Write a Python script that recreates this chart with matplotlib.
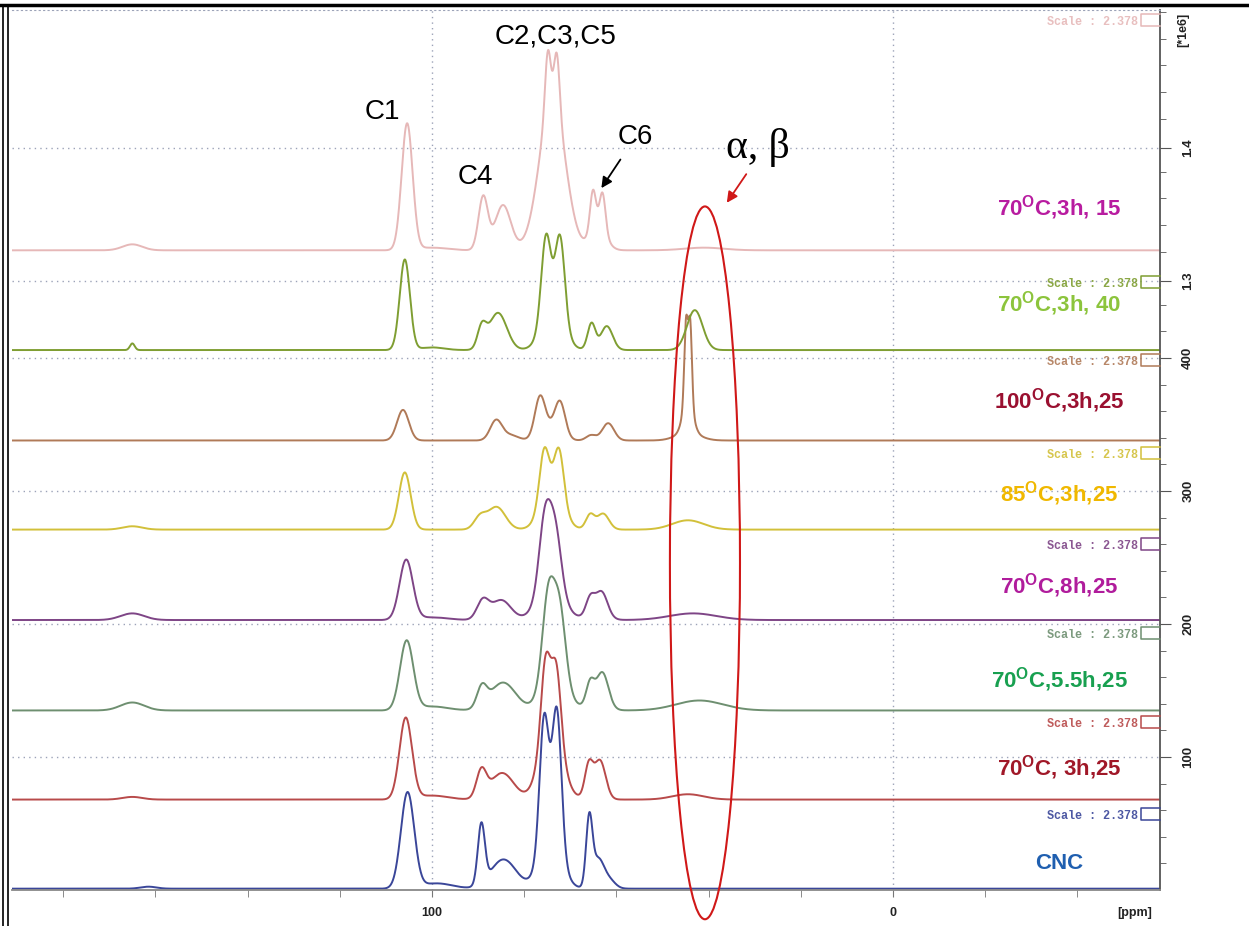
import numpy as np
import matplotlib
matplotlib.use("Agg")
import matplotlib.pyplot as plt
from matplotlib.patches import Ellipse
from matplotlib.lines import Line2D
from matplotlib.ticker import FixedLocator, MultipleLocator
import matplotlib.transforms as mtransforms

plt.rcParams['font.family'] = ['Liberation Sans', 'DejaVu Sans']
plt.rcParams['mathtext.fontset'] = 'custom'
plt.rcParams['mathtext.rm'] = 'Liberation Sans'
plt.rcParams['mathtext.bf'] = 'Liberation Sans:bold'

# ---------------- data (bottom spectrum first) ----------------
sample_labels = ["CNC",
                 r"70$^{\mathbf{O}}$C, 3h,25",
                 r"70$^{\mathbf{O}}$C,5.5h,25",
                 r"70$^{\mathbf{O}}$C,8h,25",
                 r"85$^{\mathbf{O}}$C,3h,25",
                 r"100$^{\mathbf{O}}$C,3h,25",
                 r"70$^{\mathbf{O}}$C,3h, 40",
                 r"70$^{\mathbf{O}}$C,3h, 15"]
label_colors = ["#1f5fb0", "#a01828", "#18a050", "#b01c9c",
                "#f0b800", "#9a1030", "#8cc43c", "#b81ca0"]
line_colors = ["#3a4699", "#b84a4a", "#6e8f70", "#7e4586",
               "#d2c03a", "#b07a58", "#7f9e32", "#e6b8b8"]
stack_offsets = [1, 68, 135, 203, 271, 338, 406, 481]
scale_text = "Scale : 2.378"
scale_label_levels = [56, 125, 192, 259, 327, 397, 456, 653]

# peak tables: (shift ppm, height, FWHM ppm)
peaks_cnc = [(161.5, 1.5, 4), (105.3, 72, 3.4), (99.0, 4, 8), (89.3, 45, 1.8),
             (84.5, 22, 6.5), (75.7, 97, 2.3), (72.9, 102, 2.3), (74.3, 39, 5.5),
             (65.9, 50, 1.6), (64.0, 22, 3.0), (61.5, 6, 3.0)]
peaks_70_3h_25 = [(165, 2, 5), (105.7, 61, 3.2), (100, 3, 8), (89.3, 20, 2.5),
                  (84.8, 20, 6.0), (75.4, 55, 2.3), (73.0, 49, 2.3), (74.2, 58, 5.5),
                  (66.0, 22, 2.0), (63.5, 25, 2.8), (64.8, 6, 4.0), (44.5, 4, 8)]
peaks_70_55h_25 = [(165, 6, 6), (105.5, 52, 3.4), (100, 3, 8), (89.2, 15, 2.5),
                   (84.6, 21, 6.5), (74.8, 62, 3.0), (72.3, 50, 3.0), (73.5, 30, 6.0),
                   (65.7, 16, 2.0), (63.0, 24, 3.0), (64.5, 6, 5.0), (42, 7.5, 12)]
peaks_70_8h_25 = [(165, 5, 6), (105.6, 45, 3.4), (100, 2, 8), (89.0, 14, 3.0),
                  (85.0, 15, 5.0), (75.5, 55, 3.0), (73.2, 42, 3.0), (74.3, 25, 6.5),
                  (65.7, 13, 2.2), (63.2, 18, 3.0), (64.5, 4, 5.0), (43.4, 5, 12)]
peaks_85_3h_25 = [(165, 2.5, 5), (105.9, 43, 3.0), (89.6, 9, 3.0), (86.0, 17, 4.5),
                  (75.7, 38, 2.4), (72.4, 37, 2.4), (74.0, 30, 5.5), (65.7, 11, 2.2),
                  (62.9, 12, 3.0), (44.5, 7, 8)]
peaks_100_3h_25 = [(106.3, 23, 3.0), (86.1, 15, 3.0), (83.0, 4, 4.0), (76.6, 28, 2.6),
                   (72.2, 24, 2.6), (74.4, 10, 5.0), (65.5, 4, 2.5), (61.8, 13, 3.0),
                   (44.9, 60, 0.9), (44.0, 60, 0.9), (44.5, 25, 2.5), (44.5, 6, 6.0)]
peaks_70_3h_40 = [(165, 5, 1.2), (105.9, 68, 2.6), (100, 2, 6), (89.2, 16, 2.2),
                  (85.7, 28, 4.5), (75.3, 62, 2.4), (72.2, 62, 2.4), (73.8, 30, 5.5),
                  (65.4, 20, 2.0), (62.1, 18, 3.0), (43.0, 30, 4.0)]
peaks_70_3h_15 = [(165, 4.5, 5), (105.4, 95, 2.8), (100, 2, 8), (88.9, 40, 2.4),
                  (84.6, 34, 4.0), (74.9, 42, 1.4), (72.9, 40, 1.4), (73.9, 115, 6.5),
                  (65.1, 30, 1.5), (63.0, 28, 1.5), (64.0, 18, 4.0), (41, 2, 10)]
peak_tables = [peaks_cnc, peaks_70_3h_25, peaks_70_55h_25, peaks_70_8h_25,
               peaks_85_3h_25, peaks_100_3h_25, peaks_70_3h_40, peaks_70_3h_15]

x_major_ticks = [100, 0]
y_major_ticks = [100, 200, 300, 400, 458, 558]
y_major_labels = ["100", "200", "300", "400", "1.3", "1.4"]

# ---------------- figure ----------------
W, H = 1249, 926
fig = plt.figure(figsize=(W / 100, H / 100), dpi=100)
ax = fig.add_axes([12 / W, (H - 890) / H, (1160 - 12) / W, 880 / H])
ax.set_xlim(191.1, -57.9)
ax.set_ylim(0, 661.7)

ppm = np.linspace(191.1, -57.9, 4000)


def spectrum(table):
    y = np.zeros_like(ppm)
    for c, h, w in table:
        y += h * np.exp(-4 * np.log(2) * ((ppm - c) / w) ** 2)
    return y


grid_kw = dict(color="#9ca3b8", lw=1.0, ls=(0, (1, 3)), zorder=0)
for v in x_major_ticks:
    ax.axvline(v, **grid_kw)
for v in y_major_ticks:
    ax.axhline(v, **grid_kw)

for table, off, col in zip(peak_tables, stack_offsets, line_colors):
    ax.plot(ppm, spectrum(table) + off, color=col, lw=1.4, zorder=2)

# sample labels
label_levels = [20, 92, 158, 229, 298, 368, 441, 513]
for txt, col, lv in zip(sample_labels, label_colors, label_levels):
    ax.text(-36.0, lv, txt, color=col, fontsize=16, fontweight="bold",
            ha="center", va="center", zorder=4)

# scale labels and brackets
for lv, col in zip(scale_label_levels, line_colors):
    ax.text(-53.2, lv, scale_text, color=col, fontsize=8.5,
            family=["Liberation Mono", "DejaVu Sans Mono"], fontweight="bold",
            ha="right", va="center", zorder=4, alpha=0.9)
    ax.plot([-57.9, -53.8, -53.8, -57.9], [lv + 6, lv + 6, lv - 3, lv - 3],
            color=col, lw=1.1, zorder=4, clip_on=False)

# peak annotations
ax.text(110.8, 585, "C1", fontsize=20, ha="center", va="center")
ax.text(90.7, 536, "C4", fontsize=20, ha="center", va="center")
ax.text(73.3, 642, "C2,C3,C5", fontsize=20, ha="center", va="center")
ax.text(56.0, 566, "C6", fontsize=20, ha="center", va="center")
ax.annotate("", xy=(63.6, 526), xytext=(58.8, 551),
            arrowprops=dict(arrowstyle="-|>", color="black", lw=1.3,
                            mutation_scale=16))
ax.text(29.3, 558, "\u03b1, \u03b2", fontsize=30, ha="center", va="center",
        family=["Liberation Serif", "DejaVu Serif"])
ax.annotate("", xy=(36.4, 515), xytext=(31.5, 540),
            arrowprops=dict(arrowstyle="-|>", color="#d01818", lw=1.3,
                            mutation_scale=16))
ax.add_patch(Ellipse((40.8, 246), 15.2, 536, fill=False, ec="#d01818",
                     lw=1.5, clip_on=False, zorder=5))

# axes styling
ax.spines["left"].set_visible(False)
ax.spines["top"].set_color("#9ca3b8")
ax.spines["top"].set_linestyle((0, (1, 3)))
ax.spines["right"].set_color("#555555")
ax.spines["bottom"].set_color("#888888")
ax.spines["right"].set_linewidth(1.3)
ax.spines["bottom"].set_linewidth(1.3)

ax.xaxis.set_major_locator(FixedLocator(x_major_ticks))
ax.xaxis.set_minor_locator(MultipleLocator(20))
ax.set_xticklabels([str(v) for v in x_major_ticks])
ax.tick_params(axis="x", which="both", direction="out", length=5,
               color="#777777", labelsize=9, labelcolor="#222222", pad=7)
for lab in ax.get_xticklabels():
    lab.set_fontweight("bold")

ax.yaxis.tick_right()
ax.yaxis.set_major_locator(FixedLocator(y_major_ticks))
ax.set_yticklabels(y_major_labels)
minor = [v for v in range(20, 661, 20) if all(abs(v - m) > 8 for m in y_major_ticks)]
ax.yaxis.set_minor_locator(FixedLocator(minor))
ax.tick_params(axis="y", which="major", direction="out", length=8,
               color="#555555", labelsize=9.5, labelcolor="#222222", pad=8,
               labelrotation=90)
ax.tick_params(axis="y", which="minor", direction="out", length=4,
               color="#555555")
for lab in ax.get_yticklabels():
    lab.set_fontweight("bold")
    lab.set_va("center")

trans = mtransforms.blended_transform_factory(ax.transAxes, ax.transData)
ax.text(1.0 + 17 / 1148, 647, "[*1e6]", transform=trans, rotation=90,
        fontsize=9, fontweight="bold", color="#222222", ha="left", va="center")
transx = mtransforms.blended_transform_factory(ax.transData, ax.transAxes)
ax.text(-52.5, -17 / 880, "[ppm]", transform=transx, fontsize=9,
        fontweight="bold", color="#222222", ha="center", va="top")

# figure frame lines
fig.add_artist(Line2D([0, 1], [1 - 5 / H] * 2, color="black", lw=2.5,
                      transform=fig.transFigure))
fig.add_artist(Line2D([3 / W] * 2, [0, 1 - 5 / H], color="black", lw=1.2,
                      transform=fig.transFigure))
fig.add_artist(Line2D([8 / W] * 2, [0, 1 - 5 / H], color="black", lw=1.2,
                      transform=fig.transFigure))

fig.savefig("out.png", dpi=100)
